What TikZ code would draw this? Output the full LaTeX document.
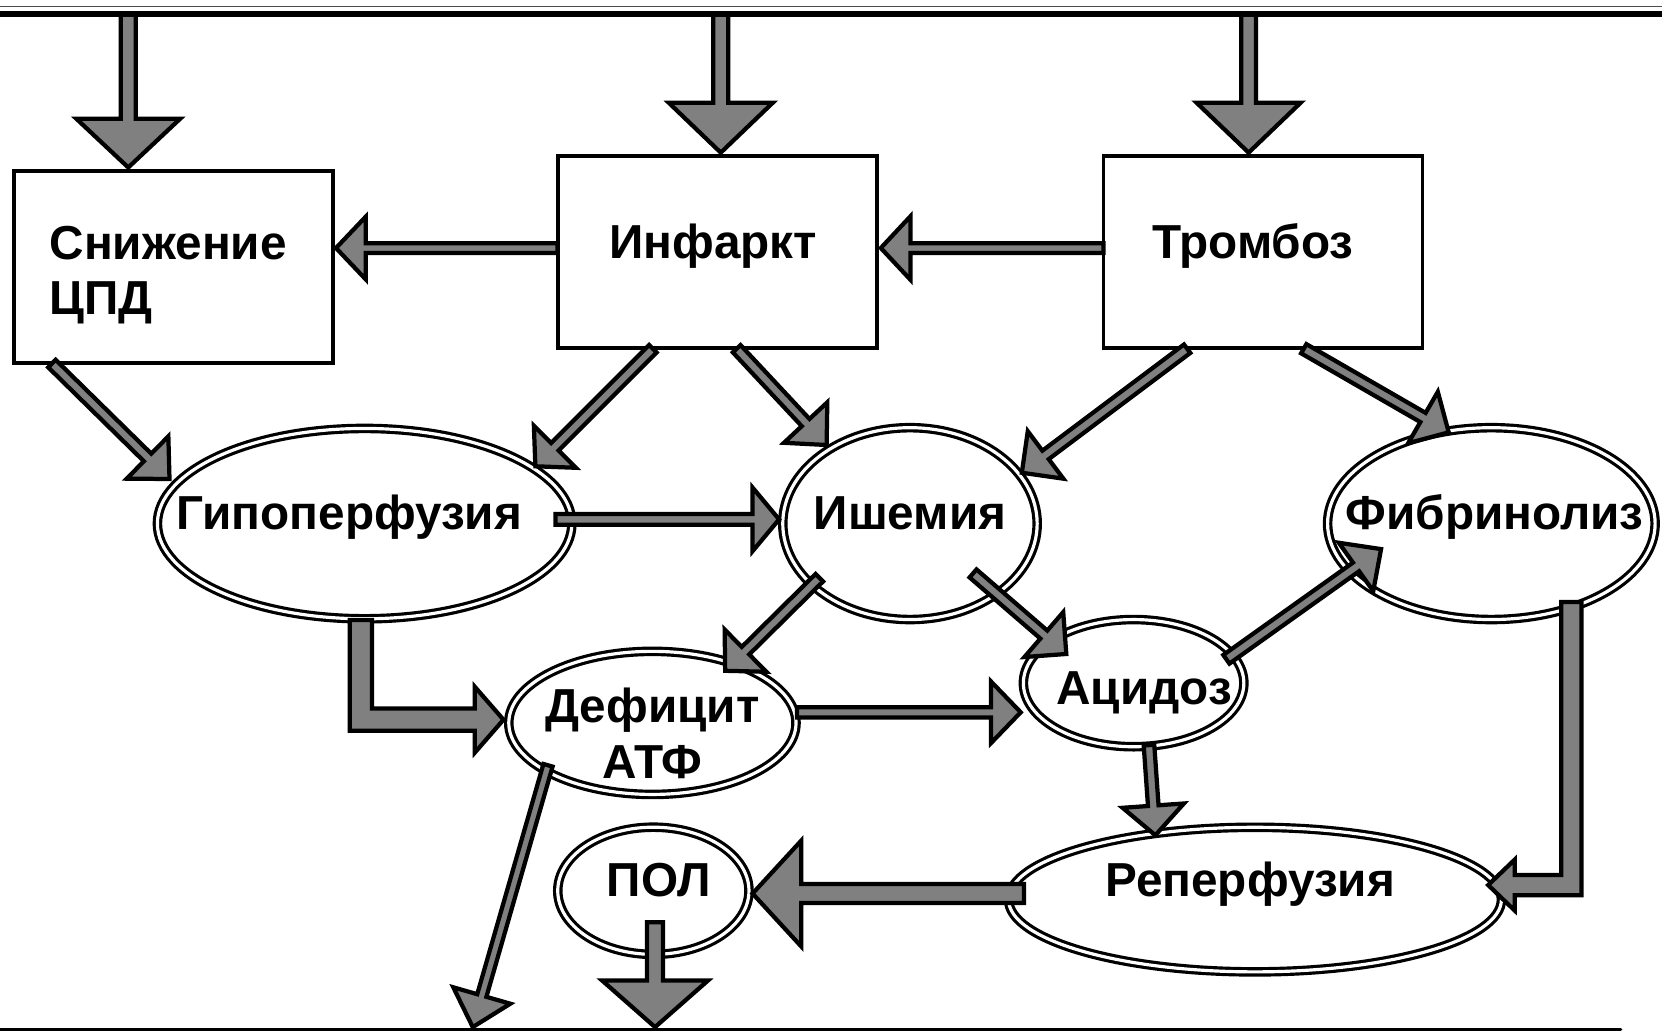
\documentclass[tikz,border=0pt]{standalone}
\usepackage{fontspec}
\setmainfont{Liberation Sans}
\usetikzlibrary{calc,shapes.geometric}

% half a drawing unit, used for arrow widths
\newcommand{\uu}{0.5pt}

% straight block arrow: start, tip, shaft half width, head half width, head length
\newcommand{\blockarrow}[5]{%
  \path let \p1=(#1), \p2=(#2) in \pgfextra{%
    \pgfmathsetmacro\tmpang{atan2(\y2-\y1,\x2-\x1)}%
    \pgfmathsetmacro\tmplen{veclen(\x2-\x1,\y2-\y1)}%
    \xdef\baAng{\tmpang}\xdef\baLen{\tmplen}};
  \draw[barrow, shift={(#1)}, rotate=\baAng]
    (0pt,{-#3*\uu}) -- ({\baLen pt-#5*\uu},{-#3*\uu}) -- ({\baLen pt-#5*\uu},{-#4*\uu})
    -- ({\baLen pt},0pt) -- ({\baLen pt-#5*\uu},{#4*\uu}) -- ({\baLen pt-#5*\uu},{#3*\uu})
    -- (0pt,{#3*\uu}) -- cycle;
}

% elbow block arrow: down from start, then sideways to tip
% start, tip, shaft half width, head half width, head length, direction (+1 right, -1 left)
\newcommand{\elbowarrow}[6]{%
  \draw[barrow] let \p1=(#1), \p2=(#2) in
    ({\x1-(#6)*#3*\uu},\y1) -- ({\x1-(#6)*#3*\uu},{\y2-#3*\uu})
    -- ({\x2-(#6)*#5*\uu},{\y2-#3*\uu}) -- ({\x2-(#6)*#5*\uu},{\y2-#4*\uu})
    -- (\p2) -- ({\x2-(#6)*#5*\uu},{\y2+#4*\uu}) -- ({\x2-(#6)*#5*\uu},{\y2+#3*\uu})
    -- ({\x1+(#6)*#3*\uu},{\y2+#3*\uu}) -- ({\x1+(#6)*#3*\uu},\y1) -- cycle;
}

\begin{document}
\begin{tikzpicture}[x=0.5pt,y=-0.5pt,
  lbl/.style={font=\bfseries\fontsize{22.5pt}{26pt}\selectfont},
  box/.style={lbl, draw, rectangle, line width=1.8pt, fill=white, inner sep=0pt,
    minimum width=150.5pt, minimum height=90.4pt},
  oval/.style={lbl, draw, ellipse, line width=1.5pt, double=white,
    double distance=1.5pt, fill=white, inner sep=0pt},
  barrow/.style={draw=black, fill=gray, line width=2pt, line join=miter, miter limit=10}]
\useasboundingbox (0,0) rectangle (1568,974);

% frame lines
\draw[line width=0.75pt, black!70] (0,6.3) -- (1568,6.3);
\draw[line width=2.85pt] (0,13.2) -- (1568,13.2);
\draw[line width=1.6pt, line cap=round] (0,971.5) -- (1529,971.5);

% boxes
\node[box, text width=117.1pt, align=left, text height=2pt, text depth=9pt]
  (snizh) at (164,252) {Снижение\\ЦПД};
\node[box, text height=8pt, text depth=2pt] (infarkt) at (677,237.65)
  {\makebox[0pt]{Инфаркт\hspace{4.3pt}}};
\node[box, text height=8pt, text depth=2pt] (tromboz) at (1191.6,237.65)
  {\makebox[0pt]{Тромбоз\hspace{9.6pt}}};

% ovals
\node[oval, minimum width=195.5pt, minimum height=89.8pt, text height=8pt, text depth=2pt]
  (hypo) at (344,494) {\makebox[0pt]{Гипоперфузия\hspace{14.5pt}}};
\node[oval, minimum width=120pt, minimum height=90.5pt, text height=8pt, text depth=2pt]
  (isch) at (858.5,494) {\makebox[0pt]{Ишемия}};
\node[oval, minimum width=154.5pt, minimum height=90.5pt, text height=8pt, text depth=2pt]
  (fibr) at (1407,494) {\makebox[0pt]{\hspace{3pt}Фибринолиз}};
\node[oval, minimum width=104pt, minimum height=60pt, text height=22pt, text depth=1.5pt]
  (acid) at (1069.5,644.5) {\makebox[0pt]{\hspace{10pt}Ацидоз}};
\node[oval, minimum width=135.5pt, minimum height=67.5pt, text height=5pt, text depth=5pt]
  (atp) at (615.5,682) {\makebox[0pt]{\begin{tabular}[t]{@{}c@{}}Дефицит\\АТФ\end{tabular}}};
\node[oval, minimum width=90.2pt, minimum height=60pt, text height=7pt, text depth=1.4pt]
  (pol) at (616.4,840.4) {\makebox[0pt]{\hspace{5pt}ПОЛ}};
\node[oval, minimum width=232.5pt, minimum height=68.2pt, text height=5pt, text depth=7.7pt]
  (reperf) at (1184,848.7) {\makebox[0pt]{Реперфузия\hspace{4.5pt}}};

% arrow ends
\coordinate (top1) at (121,14);    \coordinate (snizhIn) at (121,158);
\coordinate (top2) at (680,14);    \coordinate (infIn) at (680,144);
\coordinate (top3) at (1178,14);   \coordinate (tromIn) at (1178,144);
\coordinate (infW) at (526,234);   \coordinate (snizhE) at (317,234);
\coordinate (tromW) at (1041,234); \coordinate (infE) at (831,234);
\coordinate (snizhS) at (49,343);  \coordinate (hypoNW) at (160,452);
\coordinate (infSW) at (616,329);  \coordinate (hypoNE) at (505,440);
\coordinate (infSE) at (695,329);  \coordinate (ischNW) at (780,420);
\coordinate (tromSW) at (1120,329);\coordinate (ischNE) at (964,446);
\coordinate (tromSE) at (1230,329);\coordinate (fibrNW) at (1367,408);
\coordinate (hypoE) at (524,490);  \coordinate (ischW) at (735,490);
\coordinate (ischSW) at (773,545); \coordinate (atpNE) at (684,633);
\coordinate (ischSE) at (918,541); \coordinate (acidNW) at (1006,617);
\coordinate (hypoS) at (340.5,585);\coordinate (atpW) at (475,679);
\coordinate (atpE) at (752,672);   \coordinate (acidW) at (963,672);
\coordinate (acidNE) at (1157,622);\coordinate (fibrSW) at (1303,518);
\coordinate (fibrS) at (1482.5,568);\coordinate (reperfE) at (1404,835);
\coordinate (acidS) at (1084,703); \coordinate (reperfN) at (1090,788);
\coordinate (reperfW) at (966,843);\coordinate (polE) at (710,843);
\coordinate (polS) at (618,870);   \coordinate (bot1) at (618,969);
\coordinate (atpSW) at (517,722);  \coordinate (bot2) at (446,969);

% arrows
\blockarrow{top1}{snizhIn}{7}{49}{46}
\blockarrow{top2}{infIn}{7}{49}{47}
\blockarrow{top3}{tromIn}{7}{49}{47}
\blockarrow{infW}{snizhE}{4.6}{29.5}{28}
\blockarrow{tromW}{infE}{4.6}{30}{28}
\blockarrow{snizhS}{hypoNW}{5}{28}{29}
\blockarrow{infSW}{hypoNE}{5}{28}{26}
\blockarrow{infSE}{ischNW}{5}{28}{29}
\blockarrow{tromSW}{ischNE}{5}{28}{28}
\blockarrow{tromSE}{fibrNW}{5}{28}{28}
\blockarrow{hypoE}{ischW}{5}{30}{25}
\blockarrow{ischSW}{atpNE}{5}{28}{27}
\blockarrow{ischSE}{acidNW}{5}{28}{28}
\elbowarrow{hypoS}{atpW}{10.5}{31}{27}{1}
\blockarrow{atpE}{acidW}{4.8}{29}{28}
\blockarrow{acidNE}{fibrSW}{5}{28}{29}
\elbowarrow{fibrS}{reperfE}{9.5}{24}{25}{-1}
\blockarrow{acidS}{reperfN}{5}{29}{28}
\blockarrow{reperfW}{polE}{9}{50}{46}
\blockarrow{polS}{bot1}{7.5}{50}{44}
\blockarrow{atpSW}{bot2}{4.5}{28}{31}
\end{tikzpicture}
\end{document}
